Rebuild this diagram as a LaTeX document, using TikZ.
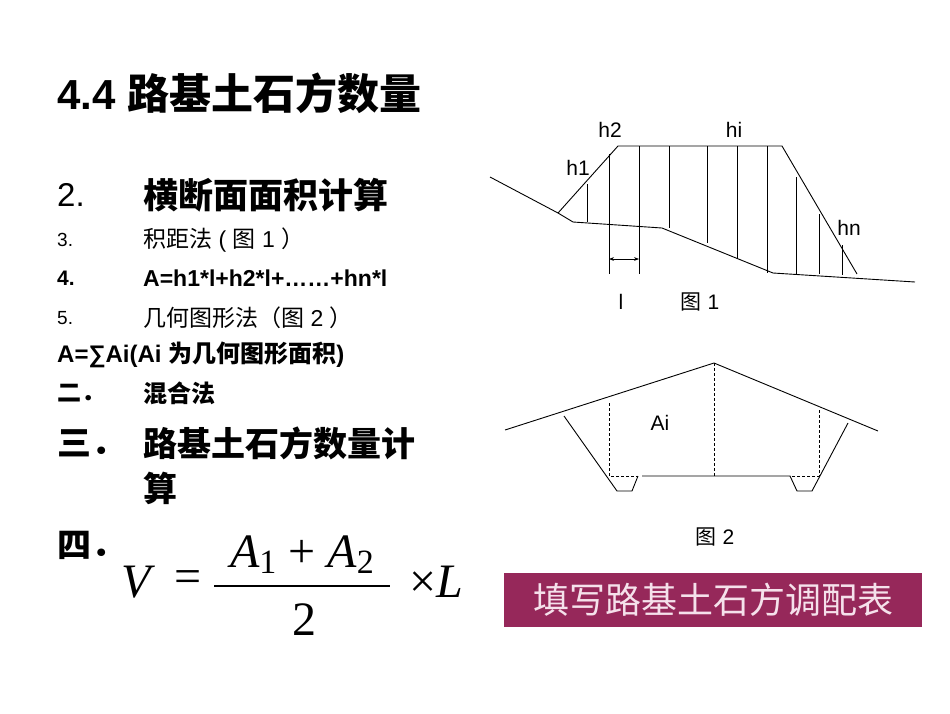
\documentclass[tikz,border=0pt]{standalone}
\usepackage{fontspec}
\setmainfont{Liberation Sans}
\newfontfamily\cjk{Noto Sans CJK SC}
\newfontfamily\serifm{Liberation Serif}
\usetikzlibrary{arrows.meta}
\begin{document}
\begin{tikzpicture}[x=1pt,y=-1pt,
  ln/.style={line width=0.9pt},
  dl/.style={line width=0.8pt,dashed,dash pattern=on 3pt off 2pt},
  vl/.style={line width=0.7pt},
  tx/.style={anchor=west,inner sep=0pt},
  fx/.style={inner sep=0pt,font=\serifm\fontsize{48}{50}\selectfont},
  lb/.style={font=\fontsize{21}{23}\selectfont}]
\useasboundingbox (0,0) rectangle (950,713);
\fill[white] (0,0) rectangle (950,713);
% left text
\node[tx,font=\bfseries\fontsize{42}{44}\selectfont] (t0) at (57,93) {4.4 {\cjk\bfseries 路基土石方数量}};
\node[tx,font=\fontsize{33}{35}\selectfont] (t1a) at (57,195) {2.};
\node[tx,font=\cjk\bfseries\fontsize{35}{37}\selectfont] (t1b) at (143,195) {横断面面积计算};
\node[tx,font=\fontsize{19}{20}\selectfont] (t2a) at (57,240) {3.};
\node[tx,font=\fontsize{23}{25}\selectfont] (t2b) at (143,240) {{\cjk 积距法} ( {\cjk 图} 1 {\cjk ）}};
\node[tx,font=\bfseries\fontsize{21}{22}\selectfont] (t3a) at (57,278) {4.};
\node[tx,font=\bfseries\fontsize{23}{25}\selectfont] (t3b) at (143,278) {A=h1*l+h2*l+……+hn*l};
\node[tx,font=\fontsize{19}{20}\selectfont] (t4a) at (57,318) {5.};
\node[tx,font=\fontsize{23}{25}\selectfont] (t4b) at (143,318) {{\cjk 几何图形法（图} 2 {\cjk ）}};
\node[tx,font=\bfseries\fontsize{24}{26}\selectfont] (t5) at (57,355) {A=∑Ai(Ai {\cjk\bfseries 为几何图形面积})};
\node[tx,font=\cjk\bfseries\fontsize{24}{26}\selectfont] (t6a) at (57,393) {二．};
\node[tx,font=\cjk\bfseries\fontsize{24}{26}\selectfont] (t6b) at (143,393) {混合法};
\node[tx,font=\cjk\bfseries\fontsize{34}{36}\selectfont] (t7a) at (57,443) {三．};
\node[tx,font=\cjk\bfseries\fontsize{34}{36}\selectfont] (t7b) at (143,443) {路基土石方数量计};
\node[tx,font=\cjk\bfseries\fontsize{34}{36}\selectfont] (t7c) at (143,488) {算};
\node[tx,font=\cjk\bfseries\fontsize{34}{36}\selectfont] (t8) at (57,545) {四．};
% formula
\node[fx] (fv) at (136,582) {\itshape V};
\node[fx] (feq) at (188,582) {=};
\draw[line width=1.6pt] (214,586) -- (390,586);
\node[fx] (fn) at (302,555) {{\itshape A}{\fontsize{34}{36}\selectfont\raisebox{-6pt}{1}} + {\itshape A}{\fontsize{34}{36}\selectfont\raisebox{-6pt}{2}}};
\node[fx] (fd) at (304,620) {2};
\node[fx] (fl) at (436,582) {×\itshape L};
% figure 1
\draw[ln] (490,177) -- (558,213) -- (573,222) -- (662,228) -- (773,273) -- (915,282);
\draw[ln] (558,213) -- (618,146) -- (782,146) -- (857,274);
\draw[vl] (587,184) -- (587,222);
\draw[vl] (609,154) -- (609,274);
\draw[vl] (639,146) -- (639,274);
\draw[vl] (669,146) -- (669,228);
\draw[vl] (707,146) -- (707,243);
\draw[vl] (737,146) -- (737,258);
\draw[vl] (767,146) -- (767,273);
\draw[vl] (796,177) -- (796,274);
\draw[vl] (819,214) -- (819,274);
\draw[vl] (842,245) -- (842,275);
\coordinate (la) at (609,259); \coordinate (lb) at (639,259);
\draw[vl,{Stealth[length=5pt]}-{Stealth[length=5pt]}] (la) -- (lb);
\node[lb] (h1) at (578,168) {h1};
\node[lb] (h2) at (610,130) {h2};
\node[lb] (hi) at (734,130) {hi};
\node[lb] (hn) at (849,228) {hn};
\node[lb] (ll) at (621,302) {l};
\node[lb] (f1) at (700,302) {{\cjk 图} 1};
% figure 2
\draw[ln] (505,430) -- (714,363) -- (878,431);
\draw[ln] (564,416) -- (617,491) -- (632,491) -- (638,476);
\draw[ln] (642,476) -- (790,476) -- (797,491) -- (812,491) -- (848,423);
\draw[dl] (609,403) -- (609,476) -- (638,476);
\draw[dl] (714,363) -- (714,476);
\draw[dl] (819,410) -- (819,476) -- (790,476);
\node[lb] (ai) at (660,423) {Ai};
\node[lb] (f2) at (715,537) {{\cjk 图} 2};
% box
\node[fill={rgb,255:red,150;green,40;blue,90},draw=none,minimum width=418pt,minimum height=54pt,inner sep=0pt,
  text={rgb,255:red,245;green,225;blue,235},font=\cjk\fontsize{36}{38}\selectfont] (bx) at (713,600) {填写路基土石方调配表};
\end{tikzpicture}
\end{document}
